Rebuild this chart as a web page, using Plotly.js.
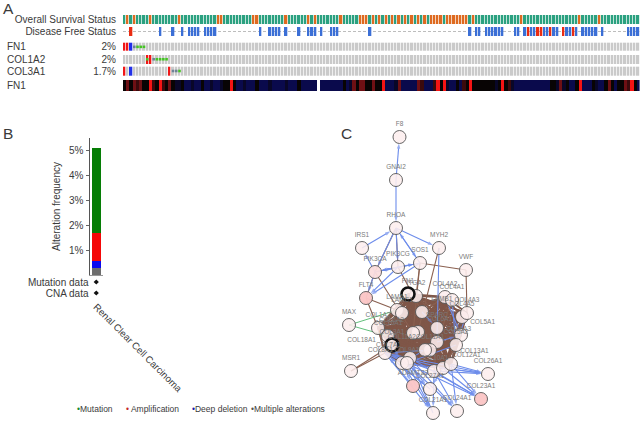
<!DOCTYPE html>
<html><head><meta charset="utf-8">
<script src="https://cdn.plot.ly/plotly-3.0.1.min.js"></script>
<style>html,body{margin:0;padding:0;background:#fff}#c{width:643px;height:423px}</style>
</head><body><div id="c"></div>
<script>
// ---------- Panel A data ----------
const columnCount = 160;
const survivalDeceased = [1,3,8,17,29,30,40,41,50,57,59,67,73,74,75,77,79,81,83,85,87,89,91,93,95,96,97,98,100,101,102,103,104,105,106,108,123,141,147];
const dfsRecurred = [2,125,128,129,132,136,139];
const dfsFree = [11,15,18,20,21,22,23,25,26,27,28,42,45,46,47,48,50,54,57,58,59,61,64,65,66,76,107,109,110,112,113,114,115,116,117,121,122,124,126,127,130,131,133,134,137,138,140,142,143,144,145,146,148,156,157,158,159];
const trackLabels = ["Overall Survival Status","Disease Free Status","2%","2%","1.7%"];
const geneNames = ["FN1","COL1A2","COL3A1","FN1"];
const fn1Amp = [0,1], fn1Del = [2], fn1Other = [3], fn1Missense = [4,5,6];
const col1a2Amp = [7,8], col1a2Del = [], col1a2Other = [9], col1a2Missense = [7,10,11,12,13];
const col3a1Amp = [0,14], col3a1Del = [2], col3a1Other = [15,16], col3a1Missense = [17];
const fn1Expression = [0,1,0,1,0.5,1,0,0,3,0.5, 0,3,0.5,0,1,0,-0.5,-0.5,0,-1,
 -1,-0.5,-1,-1,0,-1,-1,-0.5,-1,-1, -0.5,0,0,3,0,-1,-1,-0.5,-1,-1,
 -1,0,-1,-1,-1,-0.5,-1,-1,-1,-1, -0.5,-1,-1,-1,0,-1,-1,-1,-1,-1, null,
 -1,-1,-1,-1,-1,-1,-1,0,-1,-0.5, 1,0,1,1,0,0,1,0,0,3,
 -1,-1,-1,-0.5,1,-1,-1,-1,-1,-1, 1,0.5,-1,-1,-1,0.5,3,0,3,-0.5,
 -1,-1,0,-1,0.5,0,3,0,0,0, 0,0,0,0,-0.5,0,3,0,0.5,-0.5,
 -1,-1,-1,-1,-1,-1,-1,-1,-1,-1, -1,0,0,-0.5,1,-0.5,0,-1,-1,0,
 3,-1,-1,-1,0,-0.5,-1,-1,0,1, 0,-1,0,0,1,0.5,3,0,-1];

// ---------- Panel B data ----------
const cancerType = "Renal Clear Cell Carcinoma";
const freqMultiple = 0.28, freqDeletion = 0.27, freqAmplification = 1.13, freqMutation = 3.4;
const freqTicks = [1,2,3,4,5];
const freqTickLabels = ["1%","2%","3%","4%","5%"];
const dataTypes = ["Mutation data","CNA data"];
const legendItems = ["Mutation","Amplification","Deep deletion","Multiple alterations"];
const legendColors = ["#1b8a2a","#c62828","#1a1aa8","#555555"];

// ---------- Panel C data ----------
const nodeNames = ["F8","GNAI2","RHOA","IRS1","MYH2","SOS1","PIK3CG","PIK3CA","VWF","FLT4","MAX","MSR1","COL26A1","COL23A1","COL24A1","COL21A1","ADAMTS2","COL27A1",
 "LAMA1","LAMC1","LAMB1","SPARC","COL4A5","COL4A3","COL5A1","COL5A2","COL6A1","COL6A2","COL6A3","COL11A1","COL11A2","COL7A1","COL8A1","COL9A1","COL10A1","COL12A1","COL13A1","COL1A2","COL16A1","COL18A1","ITGA2","COL4A2","COL4A1","FN1","COL3A1"];
const nodeX = [399.5,396,396,362,439,420,398,375,466,366,349,351,488,481,457,433,413,430,
 397,402,422,437,462,467,461,456,418,413,437,430,425,410,402,407,434,443,451,378,388,385,416,445,452,408,392];
const nodeY = [137,180,228,248,248,263,267,272,270,298,325,371,374,399,411,413,386,389,
 310,313,312,328,317,313,335,345,332,333,342,350,350,358,363,363,371,368,364,328,336,353,296,297,300,294,345];
const nodeTint = [0,0,0,0,0,0,0,1,0,2,0,0,0,2,0,0,2,0,
 0,0,0,0,0,0,0,0,0,0,0,0,0,0,0,0,0,0,0,0,0,0,0,0,0,0,0];
const ringNodes = ["FN1","COL3A1"];
const meshNodes = ["LAMA1","LAMC1","LAMB1","SPARC","COL4A5","COL4A3","COL5A1","COL5A2","COL6A1","COL6A2","COL6A3","COL11A1","COL11A2","COL7A1","COL8A1","COL9A1","COL1A2","COL16A1","COL18A1","ITGA2","FN1","COL3A1","COL13A1","COL12A1","COL4A2"];
const brownEdges = [["RHOA","PIK3CA"],["RHOA","PIK3CG"],["SOS1","VWF"],["MYH2","COL6A1"],["SOS1","COL6A2"],["SOS1","ITGA2"],["VWF","COL4A3"],["PIK3CA","PIK3CG"],["PIK3CA","COL6A2"],["PIK3CG","LAMB1"],["FLT4","PIK3CA"],["FLT4","LAMA1"],["FLT4","COL1A2"],["MSR1","COL18A1"],["MSR1","COL3A1"],["COL1A2","COL18A1"],["COL4A2","LAMB1"],["COL4A1","COL6A3"],["COL4A2","COL5A1"],["COL10A1","COL6A3"],["COL12A1","COL5A2"]];
const greenEdges = [["MAX","LAMA1"],["MAX","COL16A1"]];
const blueEdges = [["GNAI2","F8"],["GNAI2","RHOA"],["IRS1","RHOA"],["RHOA","MYH2"],["RHOA","PIK3CA"],["RHOA","PIK3CG"],["SOS1","RHOA"],["RHOA","SOS1"],["PIK3CA","IRS1"],["PIK3CA","PIK3CG"],["PIK3CG","SOS1"],["PIK3CA","SOS1"],["PIK3CG","PIK3CA"],["MYH2","COL6A3"],["PIK3CA","FLT4"],["PIK3CG","FLT4"],["SOS1","FLT4"],["SOS1","PIK3CA"],["COL4A2","COL5A1"],["COL4A1","COL5A2"],["COL4A3","COL5A2"],["LAMB1","SPARC"],["COL6A3","COL5A1"],
 ["COL18A1","COL26A1"],["COL8A1","COL26A1"],["COL10A1","COL26A1"],["COL13A1","COL26A1"],["COL12A1","COL26A1"],["COL18A1","COL23A1"],["COL7A1","COL23A1"],["COL10A1","COL23A1"],["COL12A1","COL23A1"],["COL13A1","COL23A1"],["COL7A1","COL24A1"],["COL10A1","COL24A1"],["COL9A1","COL24A1"],["COL13A1","COL24A1"],["COL8A1","COL21A1"],["COL9A1","COL21A1"],["COL10A1","COL21A1"],["COL18A1","COL21A1"],["COL8A1","ADAMTS2"],["COL9A1","COL27A1"],["COL12A1","COL27A1"],["COL18A1","COL27A1"],["COL11A2","COL8A1"],["COL11A1","COL18A1"],["COL5A2","COL9A1"],["COL10A1","COL18A1"],["COL12A1","COL18A1"],["COL3A1","COL8A1"],["COL27A1","COL18A1"],["ADAMTS2","COL18A1"],["COL21A1","COL7A1"]];
const leftLabels = ["COL6A2","COL7A1","COL11A2","COL18A1","COL8A1"];
const rightLabels = ["LAMB1","COL5A1","COL6A3","COL12A1","COL13A1","COL6A1"];

// ---------- Geometry helpers (page pixels -> figure fractions) ----------
const W = 643, H = 423;
const dx = (a,b) => [a/W, b/W];
const dy = (top,bot) => [1-bot/H, 1-top/H];
const cols = Array.from({length:columnCount}, (_,i)=>i);
const mark = (amp,del) => cols.map(i => amp.includes(i) ? 1 : del.includes(i) ? 2 : 0);
const rowBands = [[15,24],[27,36],[42.7,51],[55,63.5],[66.7,75.3],[80,90.5]];
const center = r => (r[0]+r[1])/2;
const GREEN="#2ba180", ORANGE="#de6a20", GRAY="#cacaca", RED="#f01616", BLUE="#2230e8";

const hm = (z,band,scale,zmin,zmax,gap) => ({type:"heatmap",x:cols,y:band,z:[z],colorscale:scale,zmin,zmax,showscale:false,xgap:gap,hoverinfo:"skip",xaxis:"x",yaxis:"y"});
const sq = (idx,band,color) => ({type:"scatter",mode:"markers",x:idx,y:idx.map(()=>center(band)),marker:{symbol:"square",size:2.6,color},xaxis:"x",yaxis:"y",hoverinfo:"skip",showlegend:false});

const geneScale = [[0,GRAY],[0.5,RED],[1,BLUE]];
const traces = [
 hm(cols.map(i=>survivalDeceased.includes(i)?1:0),rowBands[0],[[0,GREEN],[1,ORANGE]],0,1,0.7),
 hm(cols.map(i=>dfsRecurred.includes(i)?1:dfsFree.includes(i)?0:null),rowBands[1],[[0,"#3b6fd6"],[1,"#ea2c12"]],0,1,0.7),
 hm(mark(fn1Amp,fn1Del),rowBands[2],geneScale,0,2,0.7),
 hm(mark(col1a2Amp,col1a2Del),rowBands[3],geneScale,0,2,0.7),
 hm(mark(col3a1Amp,col3a1Del),rowBands[4],geneScale,0,2,0.7),
 hm(fn1Expression,rowBands[5],[[0,"#0a0a4c"],[0.25,"#080404"],[0.5,"#6e1014"],[1,"#f51414"]],-1,3,0),
 sq(fn1Missense,rowBands[2],"#45c424"), sq(fn1Other,rowBands[2],"#6f8296"),
 sq(col1a2Missense,rowBands[3],"#45c424"), sq(col1a2Other,rowBands[3],"#6f8296"),
 sq(col3a1Missense,rowBands[4],"#45c424"), sq(col3a1Other,rowBands[4],"#6f8296")
];

// Panel B
[[freqMultiple,"#6e6e6e"],[freqDeletion,"#0a0af0"],[freqAmplification,"#f40808"],[freqMutation,"#067d06"]].forEach(([v,c])=>{
 traces.push({type:"bar",x:[cancerType],y:[v],marker:{color:c,line:{width:0}},width:0.7,xaxis:"x2",yaxis:"y2",hoverinfo:"skip"});
});
traces.push({type:"scatter",mode:"markers",x:[cancerType,cancerType],y:dataTypes,marker:{size:4,color:"#111",symbol:"diamond"},xaxis:"x3",yaxis:"y3",hoverinfo:"skip"});

// Panel C
const idx = n => nodeNames.indexOf(n);
function edgeTrace(pairs,color,width,arrows){
 const x=[],y=[],s=[];
 pairs.forEach(([a,b])=>{x.push(nodeX[idx(a)],nodeX[idx(b)],null);y.push(nodeY[idx(a)],nodeY[idx(b)],null);s.push(0,5.5,0);});
 const t={type:"scatter",mode:"lines",x,y,line:{color,width},xaxis:"x4",yaxis:"y4",hoverinfo:"skip",connectgaps:false};
 if(arrows){t.mode="lines+markers";t.marker={symbol:"arrow",angleref:"previous",size:s,color,standoff:6.5,line:{width:0}};}
 return t;
}
const meshPairs=[];
meshNodes.forEach((a,i)=>meshNodes.slice(i+1).forEach(b=>meshPairs.push([a,b])));
traces.push(edgeTrace(meshPairs,"#7f5648",1.8,false));
traces.push(edgeTrace(brownEdges,"#8a6050",1.1,false));
traces.push(edgeTrace(greenEdges,"#63c07c",1,false));
traces.push(edgeTrace(blueEdges,"#6c8ceb",1.1,true));
const tintColors=["rgba(253,238,238,0.88)","rgba(251,221,221,0.95)","rgba(251,198,198,0.97)"];
traces.push({type:"scatter",mode:"markers+text",x:nodeX,y:nodeY,text:nodeNames,
 textposition:nodeNames.map(n=>leftLabels.includes(n)?"top left":rightLabels.includes(n)?"top right":"top center"),
 textfont:{family:"Liberation Sans",size:6.5,color:"#7a7a7a"},
 marker:{size:13,color:nodeTint.map(t=>tintColors[t]),
  line:{color:nodeNames.map(n=>ringNodes.includes(n)?"#111":"#555"),width:nodeNames.map(n=>ringNodes.includes(n)?2.6:0.9)}},
 xaxis:"x4",yaxis:"y4",hoverinfo:"skip"});

const TXT="#3a3a3a", FF="Liberation Sans";
const hidden={visible:false,fixedrange:true};
const ann=(text,x,y,size,anchor)=>({text,x:x/W,y:1-y/H,xref:"paper",yref:"paper",showarrow:false,xanchor:anchor||"left",yanchor:"middle",font:{family:FF,size:size,color:TXT}});
const annotations=[
 ann("A",1,8,15.5),ann("B",1,133,15.5),ann("C",339,133,15.5)
];
geneNames.forEach((g,i)=>annotations.push(ann(g,4.5,center(rowBands[i+2]),10)));
[76,125,191,250.5].forEach((x,i)=>annotations.push(ann('<span style="color:'+legendColors[i]+'">•</span>'+(i==1?" ":"")+legendItems[i],x-1.5,409,8.5)));

const layout={
 width:W,height:H,margin:{l:0,r:0,t:0,b:0,pad:0},paper_bgcolor:"#fff",plot_bgcolor:"rgba(0,0,0,0)",showlegend:false,barmode:"stack",
 font:{family:FF,color:TXT,size:10},
 xaxis:{domain:dx(123,639.6),range:[-0.5,columnCount-0.5],visible:false,fixedrange:true,anchor:"y"},
 yaxis:{domain:dy(0,100),range:[100,0],anchor:"x",showgrid:false,zeroline:false,showline:false,fixedrange:true,
  tickmode:"array",tickvals:rowBands.slice(0,5).map(center),ticktext:trackLabels,ticks:"outside",ticklen:4,tickcolor:"rgba(0,0,0,0)",tickfont:{size:10,color:TXT,family:FF}},
 xaxis2:{domain:dx(89.5,103),anchor:"y2",type:"category",showticklabels:false,ticks:"",showline:true,linecolor:"#999",linewidth:1,showgrid:false,fixedrange:true},
 yaxis2:{domain:dy(138,275),anchor:"x2",range:[0,5.48],tickmode:"array",tickvals:freqTicks,ticktext:freqTickLabels,ticks:"outside",ticklen:3,tickcolor:"#666",showline:true,linecolor:"#555",linewidth:1,showgrid:false,zeroline:false,fixedrange:true,
  tickfont:{size:10,color:TXT,family:FF},title:{text:"Alteration frequency",standoff:6,font:{size:10,color:TXT,family:FF}}},
 xaxis3:{domain:dx(89.5,103),anchor:"y3",type:"category",tickangle:45,ticks:"",showline:false,showgrid:false,fixedrange:true,tickfont:{size:9.7,color:TXT,family:FF}},
 yaxis3:{domain:dy(276.5,298.5),anchor:"x3",type:"category",categoryorder:"array",categoryarray:dataTypes,range:[1.5,-0.5],tickmode:"array",tickvals:dataTypes,ticktext:dataTypes,ticks:"",showline:false,showgrid:false,zeroline:false,fixedrange:true,tickfont:{size:10,color:TXT,family:FF}},
 xaxis4:Object.assign({domain:dx(335,505),range:[335,505],anchor:"y4"},hidden),
 yaxis4:Object.assign({domain:dy(120,423),range:[423,120],anchor:"x4"},hidden),
 shapes:[{type:"line",xref:"x",yref:"y",layer:"below",x0:-0.5,x1:columnCount-0.5,y0:center(rowBands[1]),y1:center(rowBands[1]),line:{color:"#bdbdbd",width:1,dash:"3px,2px"}}],
 annotations
};
Plotly.newPlot("c",traces,layout,{displayModeBar:false,staticPlot:true});
</script></body></html>
